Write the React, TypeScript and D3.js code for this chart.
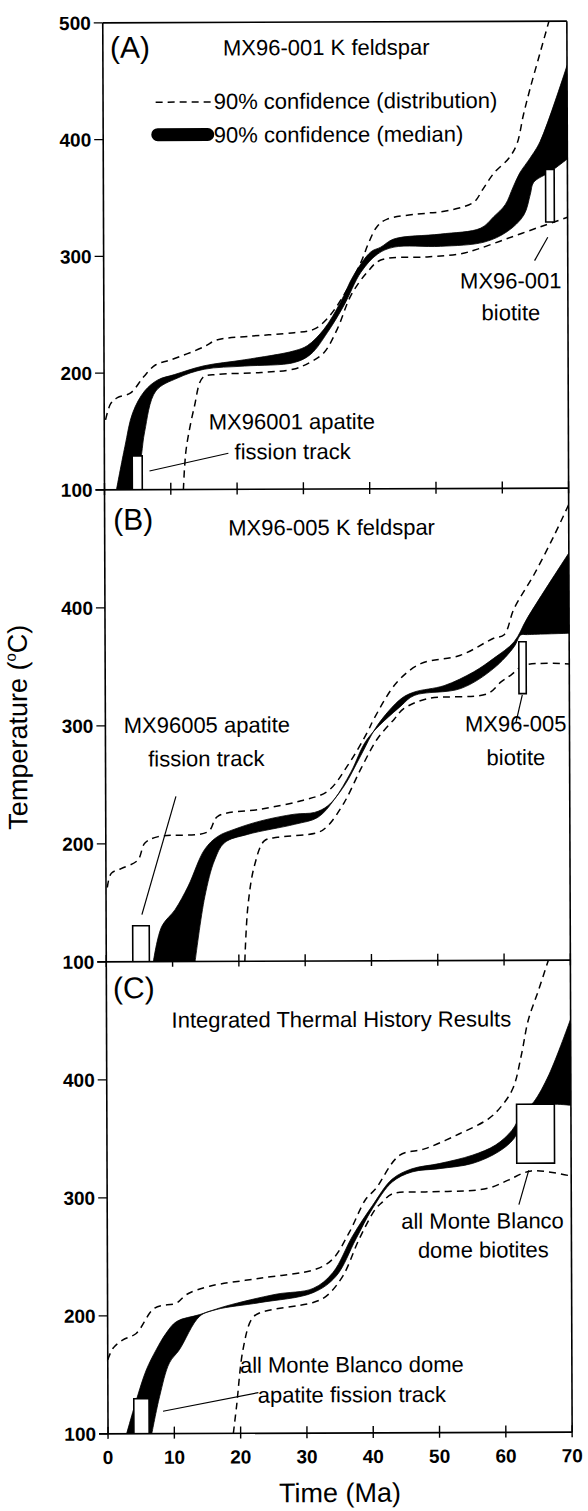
import React from 'react';
import * as d3 from 'd3';

type Pt = [number, number];
type Box = [number, number, number, number]; // t0, t1, T0, T1

// axis ticks
const timeTicks = [0, 10, 20, 30, 40, 50, 60, 70];
const tempTicks = [100, 200, 300, 400, 500];

// ---- (A) MX96-001 K feldspar ----
const upperDistA: Pt[] = [[0.2, 160], [1, 174], [2, 179], [4, 183], [6, 197], [7.8, 207], [10, 211], [15, 222], [17, 228], [21.7, 231], [28.7, 234], [31.7, 237], [33.7, 246], [36.2, 266], [38.8, 294], [40, 311], [41.3, 325], [42.8, 331], [48.8, 336], [50.8, 337], [55.8, 345], [57.2, 356], [58.9, 370], [61.2, 383], [62.4, 395], [63.4, 420], [64.4, 442], [65.9, 472], [67.4, 502]];
const lowerDistA: Pt[] = [[11.9, 100], [12.1, 120], [12.4, 137], [13.6, 171], [14.9, 196], [17.1, 198.5], [23.7, 200], [28.7, 203], [31.2, 209], [33.2, 217], [35.2, 237], [37.3, 266], [39.8, 286], [41.8, 296], [48.8, 298.5], [53.8, 301], [56.4, 305], [60.9, 314], [65.9, 324], [70, 332]];
const medianHiA: Pt[] = [[1.8, 100], [3.1, 137], [4.3, 166], [6.1, 184.5], [8.1, 194], [10.6, 198.5], [15.1, 206], [21.2, 211], [28.7, 218.5], [30.7, 223], [33.2, 237], [35.7, 260], [37.7, 283], [40.3, 303], [41.8, 307], [43.8, 314], [50.8, 318], [56.9, 323], [58.9, 333], [60.6, 343], [61.8, 358], [62.8, 370], [64.4, 383], [65.9, 397], [70, 462]];
const medianLoA: Pt[] = [[4.8, 100], [5.6, 130], [6.1, 150], [7.8, 184.5], [11.1, 195.6], [15.1, 203], [21.2, 205.6], [28.7, 208.5], [31.2, 215.6], [33.7, 234], [36.2, 257], [38.8, 285.6], [41.3, 301], [43.8, 307], [50.8, 307.5], [57.4, 311], [60.9, 320], [63.4, 334], [64.4, 352], [64.9, 362], [67.4, 371], [70, 382]];
const aftBoxA: Box = [4.2, 5.7, 100, 129];
const bioBoxA: Box = [66.7, 68.0, 328, 373];
const aftLeaderA: Pt[] = [[6.8, 116], [18.7, 131]];
const bioLeaderA: Pt[] = [[67.0, 315], [65.0, 295]];

// ---- (B) MX96-005 K feldspar ----
const upperDistB: Pt[] = [[0.2, 163], [0.8, 175], [2.3, 179], [4.8, 186], [5.9, 200.6], [7.9, 206], [15.4, 210], [16.9, 223], [23.5, 229], [29.5, 236], [33.5, 244], [36.5, 265.5], [39.5, 293.7], [40.5, 305], [44, 336], [47.6, 351.7], [53.6, 358.7], [58.6, 373], [60.2, 376], [61.7, 398], [64.7, 426.5], [67.8, 460], [70, 486]];
const lowerDistB: Pt[] = [[20.9, 100], [21.4, 147], [22.4, 181], [23.9, 202], [25.9, 205], [32, 209], [33.5, 214.7], [36, 234.5], [38.5, 262.7], [41, 288], [43.6, 305], [45, 313.6], [48.6, 322], [57.6, 326], [59.7, 336], [61.2, 341.8], [63.2, 350], [70, 351]];
const medianHiB: Pt[] = [[7.1, 100], [8.4, 130], [10.4, 144], [12.4, 164], [14.9, 195], [16.9, 206], [19.4, 212], [23.4, 219], [28.5, 224.6], [31.5, 226], [33.5, 231.6], [36, 248.5], [38.5, 274], [41, 299.4], [44.6, 322], [46.6, 327.7], [51.1, 333], [55.6, 344.7], [58.6, 356], [61.7, 370], [63.7, 390], [70, 445]];
const medianLoB: Pt[] = [[13.4, 100], [14.9, 155], [16.4, 186], [17.9, 200.6], [21.4, 207.6], [28.5, 216], [32, 221.8], [34.5, 237], [37, 260], [39.5, 288], [44.6, 316], [46.6, 324.8], [53.6, 330.5], [58.6, 347.5], [61.7, 365.8], [62.7, 375.7], [63.7, 376], [70, 377]];
const aftBoxB: Box = [4, 6.5, 100, 130.5];
const bioBoxB: Box = [62.4, 63.5, 326, 370];
const aftLeaderB: Pt[] = [[5.4, 140], [10.6, 240]];
const bioLeaderB: Pt[] = [[62.9, 325], [61.9, 301]];

// ---- (C) Integrated ----
const upperDistC: Pt[] = [[0, 162.7], [0.8, 172.6], [2.3, 179.7], [4.3, 185], [7.1, 206.5], [10.4, 210.7], [11.9, 217.8], [15.4, 224.8], [23, 231.4], [31.5, 239], [34, 247.5], [36.5, 270], [39, 298], [40.5, 306.8], [44.1, 335], [48, 340.7], [53.1, 353], [57.6, 366], [59.6, 377], [61.3, 392], [62.6, 421], [63.6, 449], [65.2, 475], [66.8, 502]];
const lowerDistC: Pt[] = [[18.9, 100], [19.4, 123], [20.4, 171], [21.7, 196.6], [22.9, 202], [31, 210.7], [33, 216], [35.5, 233], [38, 264.4], [40.5, 290], [41.5, 295.5], [43, 302.5], [48, 304], [55.6, 305.3], [58.1, 308], [60.6, 314], [64, 321.5], [70, 317]];
const medianHiC: Pt[] = [[2.8, 100], [4.3, 128.8], [5.8, 154], [7.3, 171], [8.8, 185], [10.4, 195], [13.9, 200.8], [17.9, 208], [25.4, 217.8], [31, 222.6], [34, 236], [37, 267], [40, 292.6], [43, 315], [46, 323.7], [50.1, 328], [55.1, 335], [58.6, 343.5], [61.1, 356], [62.6, 370], [64.4, 380], [66.7, 403], [70, 450]];
const medianLoC: Pt[] = [[6.6, 100], [7.8, 131.6], [9.3, 160], [10.8, 171], [13.9, 199.4], [16.4, 205], [22.9, 210.7], [31, 219], [34.5, 233], [37.5, 264.4], [40, 290], [43, 312.5], [46, 321], [50.1, 323.7], [55.1, 328], [59.1, 338], [61.4, 349], [62.6, 363], [64.1, 376], [70, 377]];
const aftBoxC: Box = [3.9, 6.2, 100, 129.7];
const bioBoxC: Box = [61.8, 67.5, 328, 378];
const aftLeaderC: Pt[] = [[8.3, 119], [22.7, 134.5]];
const bioLeaderC: Pt[] = [[63.6, 322], [62.1, 293]];

// annotation text: [text, t, T] (anchored middle)
const labelsA: [string, number, number][] = [['MX96001 apatite', 28.3, 151.4], ['fission track', 28.4, 125.7], ['MX96-001', 61.4, 271.3], ['biotite', 61.4, 244]];
const labelsB: [string, number, number][] = [['MX96005 apatite', 15.3, 294], ['fission track', 15.2, 265.5], ['MX96-005', 61.9, 294], ['biotite', 61.9, 265.5]];
const labelsC: [string, number, number][] = [['all Monte Blanco', 56.6, 272.9], ['dome biotites', 56.7, 248.3], ['all Monte Blanco dome', 36.8, 151.4], ['apatite fission track', 36.8, 126]];

const W = 588;
const H = 1511;
const LEFT = 105.4;
const RIGHT = 569.5;
const FONT = '"Liberation Sans", Arial, Helvetica, sans-serif';

const panels = [
  { id: 'A', top: 22, bottom: 489, upper: upperDistA, lower: lowerDistA, hi: medianHiA, lo: medianLoA, aft: aftBoxA, bio: bioBoxA, leaders: [aftLeaderA, bioLeaderA], labels: labelsA, letter: { x: 112.5, y: 57 }, title: { text: 'MX96-001 K feldspar', x: 225.5, y: 55 } },
  { id: 'B', top: 489, bottom: 961, upper: upperDistB, lower: lowerDistB, hi: medianHiB, lo: medianLoB, aft: aftBoxB, bio: bioBoxB, leaders: [aftLeaderB, bioLeaderB], labels: labelsB, letter: { x: 114, y: 529 }, title: { text: 'MX96-005 K feldspar', x: 229, y: 535 } },
  { id: 'C', top: 961, bottom: 1433, upper: upperDistC, lower: lowerDistC, hi: medianHiC, lo: medianLoC, aft: aftBoxC, bio: bioBoxC, leaders: [aftLeaderC, bioLeaderC], labels: labelsC, letter: { x: 112, y: 997.5 }, title: { text: 'Integrated Thermal History Results', x: 170.5, y: 1027 } },
];

export default function App() {
  const x = d3.scaleLinear().domain([0, 70]).range([LEFT, RIGHT]);

  return (
    <svg width={W} height={H} style={{ position: 'absolute', left: 0, top: 0 }} fontFamily={FONT}>
      <rect width={W} height={H} fill="#fff" />
      {/* the scan is slightly tilted */}
      <g transform="rotate(-0.215 340 728)">
        {panels.map((p, i) => {
          const y = d3.scaleLinear().domain([100, 500]).range([p.bottom, p.top]);
          const line = d3.line<Pt>().x(d => x(d[0])).y(d => y(d[1])).curve(d3.curveCatmullRom.alpha(0.5));
          const straight = d3.line<Pt>().x(d => x(d[0])).y(d => y(d[1]));
          // each edge of the median band is smoothed on its own, then joined
          const hiPath = line(p.hi) ?? '';
          const loPath = (line(p.lo.slice().reverse()) ?? '').replace(/^M/, 'L');
          const band = hiPath + loPath + 'Z';
          const yt = i === 0 ? tempTicks : tempTicks.slice(0, 4);
          const box = (b: Box) => (
            <rect x={x(b[0])} y={y(b[3])} width={x(b[1]) - x(b[0])} height={y(b[2]) - y(b[3])}
              fill="#fff" stroke="#000" strokeWidth={1.6} />
          );
          return (
            <g key={p.id}>
              <defs>
                <clipPath id={`clip-${p.id}`}>
                  <rect x={LEFT} y={p.top} width={RIGHT - LEFT} height={p.bottom - p.top} />
                </clipPath>
              </defs>
              <g clipPath={`url(#clip-${p.id})`}>
                <path d={band} fill="#000" stroke="#000" strokeWidth={0.8} />
                <path d={line(p.upper) ?? ''} fill="none" stroke="#000" strokeWidth={1.5} strokeDasharray="7,5" />
                <path d={line(p.lower) ?? ''} fill="none" stroke="#000" strokeWidth={1.5} strokeDasharray="7,5" />
                {box(p.aft)}
                {box(p.bio)}
                {p.leaders.map((l, k) => (
                  <path key={k} d={straight(l) ?? ''} fill="none" stroke="#000" strokeWidth={1.2} />
                ))}
              </g>

              {/* frame */}
              <line x1={LEFT} x2={LEFT} y1={p.top} y2={p.bottom} stroke="#000" strokeWidth={1.6} />
              <line x1={RIGHT} x2={RIGHT} y1={p.top} y2={p.bottom} stroke="#000" strokeWidth={1.6} />
              <line x1={LEFT - 9} x2={RIGHT} y1={y(100)} y2={y(100)} stroke="#000" strokeWidth={1.6} />
              {i === 0 && <line x1={LEFT} x2={RIGHT} y1={y(500)} y2={y(500)} stroke="#000" strokeWidth={1.6} />}

              {yt.map(v => (
                <g key={v}>
                  <line x1={LEFT - 9} x2={LEFT} y1={y(v)} y2={y(v)} stroke="#000" strokeWidth={1.4} />
                  <text x={LEFT - 12} y={y(v)} dy="0.36em" textAnchor="end" fontSize={19} fontWeight={700}>{v}</text>
                </g>
              ))}
              {timeTicks.map(t => (
                <line key={t} x1={x(t)} x2={x(t)} y1={y(100) - 7} y2={y(100) + 5} stroke="#000" strokeWidth={1.4} />
              ))}
              {i === panels.length - 1 && timeTicks.map(t => (
                <text key={t} x={x(t)} y={y(100) + 30} textAnchor="middle" fontSize={19} fontWeight={700}>{t}</text>
              ))}

              <text x={p.letter.x} y={p.letter.y} fontSize={30}>({p.id})</text>
              <text x={p.title.x} y={p.title.y} fontSize={22}>{p.title.text}</text>
              {p.labels.map(([s, t, v]) => (
                <text key={s} x={x(t)} y={y(v)} textAnchor="middle" fontSize={22}>{s}</text>
              ))}
            </g>
          );
        })}

        {/* legend */}
        <line x1={158} x2={214} y1={101.5} y2={101.5} stroke="#000" strokeWidth={1.5} strokeDasharray="7,5" />
        <text x={216} y={108.5} fontSize={22}>90% confidence (distribution)</text>
        <line x1={160} x2={210} y1={134} y2={134} stroke="#000" strokeWidth={13} strokeLinecap="round" />
        <text x={216} y={142} fontSize={22}>90% confidence (median)</text>

        {/* axis titles */}
        <text transform="translate(27,726) rotate(-90)" textAnchor="middle" fontSize={27}>
          Temperature (<tspan fontSize={15} dy={-11}>o</tspan><tspan dy={11}>C)</tspan>
        </text>
        <text x={337} y={1502} textAnchor="middle" fontSize={27}>Time (Ma)</text>
      </g>
    </svg>
  );
}
